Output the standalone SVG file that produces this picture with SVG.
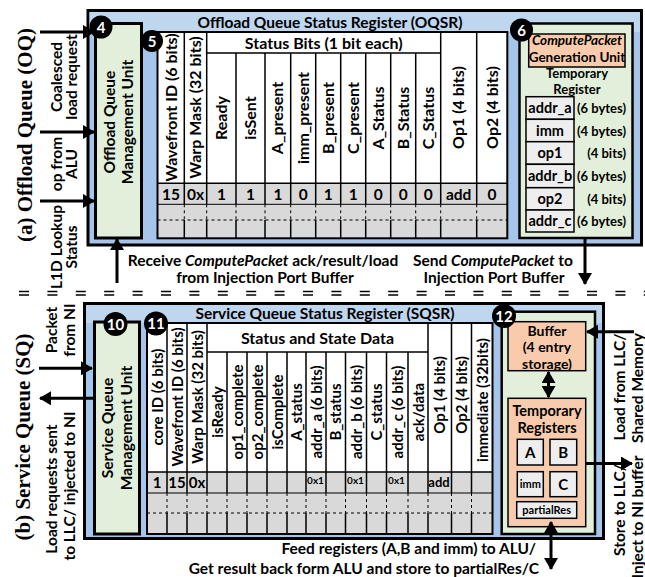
<svg xmlns="http://www.w3.org/2000/svg" width="645" height="577" viewBox="0 0 645 577">
<defs>
<marker id="ah" markerUnits="userSpaceOnUse" viewBox="0 0 12 14" refX="11" refY="7" markerWidth="12" markerHeight="14" orient="auto-start-reverse"><path d="M0,0 L12,7 L0,14 z" fill="#000"/></marker>
<style>
.b{font-family:Lato,"Liberation Sans",Arial,sans-serif;font-weight:700;fill:#000}
.s{font-family:"Liberation Serif","Times New Roman",serif;font-weight:700;fill:#000}
.m{text-anchor:middle}
.e{text-anchor:end}
.i{font-style:italic}
.outer{fill:#a5c6ea;stroke:#000;stroke-width:3}
.band{fill:#bfd6ef}
.mgmt{fill:#e2efda;stroke:#000;stroke-width:3}
.grn{fill:#e2efda;stroke:#000;stroke-width:2.5}
.org{fill:#f8cbad;stroke:#000;stroke-width:1.5}
.reg{fill:#eeeeee;stroke:#000;stroke-width:1.5}
.tl{fill:none;stroke:#000;stroke-width:1.5}
.tt{fill:none;stroke:#000;stroke-width:1}
.td{fill:none;stroke:#000;stroke-width:1;stroke-dasharray:3 3}
.arr{fill:none;stroke:#000;stroke-width:3}
.sep{fill:none;stroke:#000;stroke-width:1.5;stroke-dasharray:10 18.4}
.circ{fill:#000}
.cn{font-family:Lato,"Liberation Sans",Arial,sans-serif;font-weight:700;fill:#fff;text-anchor:middle;font-size:15px}
</style>
</defs>
<rect width="645" height="577" fill="#fff"/>

<!-- ===== Offload Queue ===== -->
<g id="oq-frame">
<rect class="outer" x="88" y="10.5" width="553.5" height="234.5"/>
<rect class="band" x="89.5" y="12" width="550.5" height="20"/>
<text class="b m" x="330" y="28" font-size="15.5">Offload Queue Status Register (OQSR)</text>
</g>

<g id="oq-label">
<text class="s m" font-size="21" transform="translate(32,135) rotate(-90)">(a) Offload Queue (OQ)</text>
<text class="b m" font-size="15.5" transform="translate(62,77) rotate(-90)">Coalesced</text>
<text class="b m" font-size="15.5" transform="translate(77,77) rotate(-90)">load request</text>
<text class="b m" font-size="15.5" transform="translate(62,164) rotate(-90)">op from</text>
<text class="b m" font-size="15.5" transform="translate(77,164) rotate(-90)">ALU</text>
<text class="b m" font-size="15.5" transform="translate(62,247) rotate(-90)">L1D Lookup</text>
<text class="b m" font-size="15.5" transform="translate(77,247) rotate(-90)">Status</text>
</g>

<g id="oq-mgmt">
<rect class="mgmt" x="95.5" y="23.5" width="46" height="214.5"/>
<text class="b m" font-size="15.5" transform="translate(115,122) rotate(-90)">Offload Queue</text>
<text class="b m" font-size="15.5" transform="translate(133,122) rotate(-90)">Management Unit</text>
<circle class="circ" cx="101" cy="27" r="11.5"/>
<text class="cn" x="101" y="32.5">4</text>
</g>

<g id="oqsr">
<rect x="157.5" y="32" width="349.8" height="151.3" fill="#fff"/>
<rect x="157.5" y="183.3" width="349.8" height="55" fill="#d9d9d9"/>
<path class="tl" d="M184.3,32V204.3M206.7,32V204.3M440.7,32V204.3M476.7,32V204.3M236,53V204.3M265,53V204.3M290.7,53V204.3M315.7,53V204.3M340.7,53V204.3M365.7,53V204.3M390.7,53V204.3M415.7,53V204.3M206.7,53H440.7M157.5,183.3H507.3"/>
<path class="tl" d="M184.3,220V238.3M206.7,220V238.3M236,220V238.3M265,220V238.3M290.7,220V238.3M315.7,220V238.3M340.7,220V238.3M365.7,220V238.3M390.7,220V238.3M415.7,220V238.3M440.7,220V238.3M476.7,220V238.3"/>
<path class="tt" d="M157.5,204.3H507.3"/>
<path class="td" d="M184.3,204.3V220M206.7,204.3V220M236,204.3V220M265,204.3V220M290.7,204.3V220M315.7,204.3V220M340.7,204.3V220M365.7,204.3V220M390.7,204.3V220M415.7,204.3V220M440.7,204.3V220M476.7,204.3V220M157.5,220H507.3"/>
<rect x="157.5" y="32" width="349.8" height="206.3" fill="none" stroke="#000" stroke-width="2"/>
<text class="b m" x="323.7" y="48.5" font-size="16">Status Bits (1 bit each)</text>
<g class="b m" font-size="16">
<text transform="translate(176.5,107.5) rotate(-90)">Wavefront ID (6 bits)</text>
<text transform="translate(201,107.5) rotate(-90)">Warp Mask (32 bits)</text>
<text transform="translate(227,118) rotate(-90)">Ready</text>
<text transform="translate(256,118) rotate(-90)">isSent</text>
<text transform="translate(283.4,118) rotate(-90)">A_present</text>
<text transform="translate(308.7,118) rotate(-90)">imm_present</text>
<text transform="translate(333.7,118) rotate(-90)">B_present</text>
<text transform="translate(358.7,118) rotate(-90)">C_present</text>
<text transform="translate(383.7,118) rotate(-90)">A_Status</text>
<text transform="translate(408.7,118) rotate(-90)">B_Status</text>
<text transform="translate(433.7,118) rotate(-90)">C_Status</text>
<text transform="translate(464.2,107.5) rotate(-90)">Op1 (4 bits)</text>
<text transform="translate(497.5,107.5) rotate(-90)">Op2 (4 bits)</text>
</g>
<g class="b m" font-size="15.5">
<text x="171" y="200">15</text>
<text x="195.5" y="200">0x</text>
<text x="221.4" y="200">1</text>
<text x="250.5" y="200">1</text>
<text x="277.9" y="200">1</text>
<text x="303.2" y="200">0</text>
<text x="328.2" y="200">1</text>
<text x="353.2" y="200">1</text>
<text x="378.2" y="200">0</text>
<text x="403.2" y="200">0</text>
<text x="428.2" y="200">0</text>
<text x="458.7" y="200">add</text>
<text x="492" y="200">0</text>
</g>
<circle class="circ" cx="152" cy="41" r="11"/>
<text class="cn" x="152" y="46.5">5</text>
</g>

<g id="oq-packet-gen">
<rect class="grn" x="519.5" y="23.5" width="113" height="214.5"/>
<rect class="org" x="528.7" y="34" width="96.3" height="33"/>
<text class="b m i" x="577" y="45" font-size="13.5">ComputePacket</text>
<text class="b m" x="577" y="62" font-size="13.5">Generation Unit</text>
<text class="b m" x="577" y="77.5" font-size="13">Temporary</text>
<text class="b m" x="577" y="93.5" font-size="13">Register</text>
<rect class="reg" x="526" y="96.7" width="48" height="22.6"/>
<rect class="reg" x="526" y="119.3" width="48" height="22.4"/>
<rect class="reg" x="526" y="141.7" width="48" height="22.6"/>
<rect class="reg" x="526" y="164.3" width="48" height="23.4"/>
<rect class="reg" x="526" y="187.7" width="48" height="22.3"/>
<rect class="reg" x="526" y="210" width="48" height="22"/>
<g class="b m" font-size="14.5">
<text x="550" y="113">addr_a</text>
<text x="550" y="135.5">imm</text>
<text x="550" y="158">op1</text>
<text x="550" y="180.5">addr_b</text>
<text x="550" y="203.5">op2</text>
<text x="550" y="225.5">addr_c</text>
</g>
<g class="b e" font-size="13">
<text x="626" y="113">(6 bytes)</text>
<text x="626" y="135.5">(4 bytes)</text>
<text x="626" y="158">(4 bits)</text>
<text x="626" y="180.5">(6 bytes)</text>
<text x="626" y="203.5">(4 bits)</text>
<text x="626" y="225.5">(6 bytes)</text>
</g>
<circle class="circ" cx="521.5" cy="30" r="11.5"/>
<text class="cn" x="521.5" y="35.5">6</text>
</g>

<g id="oq-texts">
<text class="b m" x="263" y="266" font-size="15.5">Receive <tspan class="i">ComputePacket</tspan> ack/result/load</text>
<text class="b m" x="265" y="283" font-size="15.5">from Injection Port Buffer</text>
<text class="b m" x="493" y="266" font-size="15.5">Send <tspan class="i">ComputePacket</tspan> to</text>
<text class="b m" x="494" y="283" font-size="15.5">Injection Port Buffer</text>
</g>

<g id="separator">
<path class="sep" d="M19,291.5H645M19,295H645"/>
</g>

<!-- ===== Service Queue ===== -->
<g id="sq-frame">
<rect class="outer" x="84.5" y="303.5" width="519" height="235"/>
<rect class="band" x="86" y="305" width="516" height="18"/>
<text class="b m" x="325" y="319" font-size="15.5">Service Queue Status Register (SQSR)</text>
</g>

<g id="sq-label">
<text class="s m" font-size="21" transform="translate(30,437) rotate(-90)">(b) Service Queue (SQ)</text>
<text class="b m" font-size="15.5" transform="translate(57,330) rotate(-90)">Packet</text>
<text class="b m" font-size="15.5" transform="translate(75,330) rotate(-90)">from NI</text>
<text class="b m" font-size="15.5" transform="translate(57,489) rotate(-90)">Load requests sent</text>
<text class="b m" font-size="15.5" transform="translate(75,486) rotate(-90)">to LLC/ injected to NI</text>
<text class="b m" font-size="15.5" transform="translate(625,387) rotate(-90)">Load from LLC/</text>
<text class="b m" font-size="15.5" transform="translate(643,388) rotate(-90)">Shared Memory</text>
<text class="b m" font-size="15.5" transform="translate(625,510) rotate(-90)">Store to LLC/</text>
<text class="b m" font-size="15.5" transform="translate(643,517) rotate(-90)">Inject to NI buffer</text>
</g>

<g id="sq-mgmt">
<rect class="mgmt" x="94.5" y="322" width="45" height="212"/>
<text class="b m" font-size="15.5" transform="translate(113,428) rotate(-90)">Service Queue</text>
<text class="b m" font-size="15.5" transform="translate(132,428) rotate(-90)">Management Unit</text>
<circle class="circ" cx="115.5" cy="324" r="12"/>
<text class="cn" x="115.5" y="329.5" font-size="14">10</text>
</g>

<g id="sqsr">
<rect x="147" y="323" width="345.5" height="149" fill="#fff"/>
<rect x="147" y="472" width="345.5" height="62" fill="#d9d9d9"/>
<path class="tl" d="M167,323V493M187,323V493M207,323V493M428,323V493M451.5,323V493M471.5,323V493M227,352V493M247,352V493M267,352V493M287,352V493M306,352V493M326,352V493M345.5,352V493M366.5,352V493M386.5,352V493M408,352V493M207,352H428M147,472H492.5"/>
<path class="tl" d="M167,513V534M187,513V534M207,513V534M227,513V534M247,513V534M267,513V534M287,513V534M306,513V534M326,513V534M345.5,513V534M366.5,513V534M386.5,513V534M408,513V534M428,513V534M451.5,513V534M471.5,513V534"/>
<path class="tt" d="M147,493H492.5"/>
<path class="td" d="M167,493V513M187,493V513M207,493V513M227,493V513M247,493V513M267,493V513M287,493V513M306,493V513M326,493V513M345.5,493V513M366.5,493V513M386.5,493V513M408,493V513M428,493V513M451.5,493V513M471.5,493V513M147,513H492.5"/>
<rect x="147" y="323" width="345.5" height="211" fill="none" stroke="#000" stroke-width="2"/>
<text class="b m" x="317.5" y="344" font-size="16">Status and State Data</text>
<g class="b m" font-size="15">
<text transform="translate(162.5,397) rotate(-90)">core ID (6 bits)</text>
<text transform="translate(182.5,397) rotate(-90)">Wavefront ID (6 bits)</text>
<text transform="translate(202.5,397) rotate(-90)">Warp Mask (32 bits)</text>
<text transform="translate(222.5,412) rotate(-90)">isReady</text>
<text transform="translate(242.5,412) rotate(-90)">op1_complete</text>
<text transform="translate(262.5,412) rotate(-90)">op2_complete</text>
<text transform="translate(282.5,412) rotate(-90)">isComplete</text>
<text transform="translate(302,412) rotate(-90)">A_status</text>
<text transform="translate(321.5,412) rotate(-90)">addr_a (6 bits)</text>
<text transform="translate(341.2,412) rotate(-90)">B_status</text>
<text transform="translate(361.5,412) rotate(-90)">addr_b (6 bits)</text>
<text transform="translate(382,412) rotate(-90)">C_status</text>
<text transform="translate(402.7,412) rotate(-90)">addr_c (6 bits)</text>
<text transform="translate(423.5,412) rotate(-90)">ack/data</text>
<text transform="translate(445.2,395) rotate(-90)">Op1 (4 bits)</text>
<text transform="translate(467,395) rotate(-90)">Op2 (4 bits)</text>
<text transform="translate(487.5,400) rotate(-90)">immediate (32bits)</text>
</g>
<g class="b m" font-size="15">
<text x="157" y="488">1</text>
<text x="177" y="488">15</text>
<text x="197" y="488">0x</text>
</g>
<g class="b m" font-size="10">
<text x="315.5" y="484">0x1</text>
<text x="355.5" y="484">0x1</text>
<text x="396.5" y="484">0x1</text>
</g>
<text class="b m" x="439" y="487" font-size="13">add</text>
<circle class="circ" cx="156" cy="323.5" r="12"/>
<text class="cn" x="156" y="329" font-size="14">11</text>
</g>

<g id="sq-buffer">
<rect class="grn" x="501.7" y="311.7" width="93.3" height="222.3"/>
<rect class="org" x="508" y="321.7" width="77.7" height="49"/>
<text class="b m" x="547" y="335.5" font-size="14">Buffer</text>
<text class="b m" x="547" y="352.4" font-size="14">(4 entry</text>
<text class="b m" x="547" y="369.3" font-size="14">storage)</text>
<rect class="org" x="508" y="398.3" width="77.7" height="128.4"/>
<text class="b m" x="547" y="416" font-size="14.5">Temporary</text>
<text class="b m" x="547" y="433" font-size="14.5">Registers</text>
<rect class="reg" x="517.3" y="439.3" width="26" height="25.7"/>
<rect class="reg" x="550" y="439.3" width="26.7" height="25.7"/>
<rect class="reg" x="517.3" y="471.7" width="26" height="25"/>
<rect class="reg" x="550" y="471.7" width="26.7" height="25"/>
<rect class="reg" x="516.7" y="501.7" width="60" height="16.6"/>
<text class="b m" x="530.3" y="457.5" font-size="15">A</text>
<text class="b m" x="563.3" y="457.5" font-size="15">B</text>
<text class="b m" x="530.3" y="488" font-size="11">imm</text>
<text class="b m" x="563.3" y="489.5" font-size="15">C</text>
<text class="b m" x="546.7" y="514" font-size="11">partialRes</text>
<circle class="circ" cx="504" cy="316" r="12"/>
<text class="cn" x="504" y="321.5" font-size="14">12</text>
</g>

<g id="sq-texts">
<text class="b e" x="536" y="554" font-size="15.5">Feed registers (A,B and imm) to ALU/</text>
<text class="b e" x="539" y="574" font-size="15.5">Get result back form ALU and store to partialRes/C</text>
</g>

<g id="connectors">
<path class="arr" marker-end="url(#ah)" d="M40,32H94"/>
<path class="arr" marker-end="url(#ah)" d="M40,132H94"/>
<path class="arr" marker-end="url(#ah)" d="M40,201H94"/>
<path class="arr" marker-end="url(#ah)" d="M117,283V239"/>
<path class="arr" marker-end="url(#ah)" d="M585,238V284"/>
<path class="arr" marker-end="url(#ah)" d="M39,368.3H92"/>
<path class="arr" marker-end="url(#ah)" d="M94,398.3H40"/>
<path class="arr" marker-end="url(#ah)" d="M634,331.7H587"/>
<path class="arr" marker-end="url(#ah)" d="M586,463.5H632"/>
<path class="arr" marker-start="url(#ah)" marker-end="url(#ah)" d="M548.5,372V397"/>
<path class="arr" marker-start="url(#ah)" marker-end="url(#ah)" d="M551,522V569"/>
</g>
</svg>
